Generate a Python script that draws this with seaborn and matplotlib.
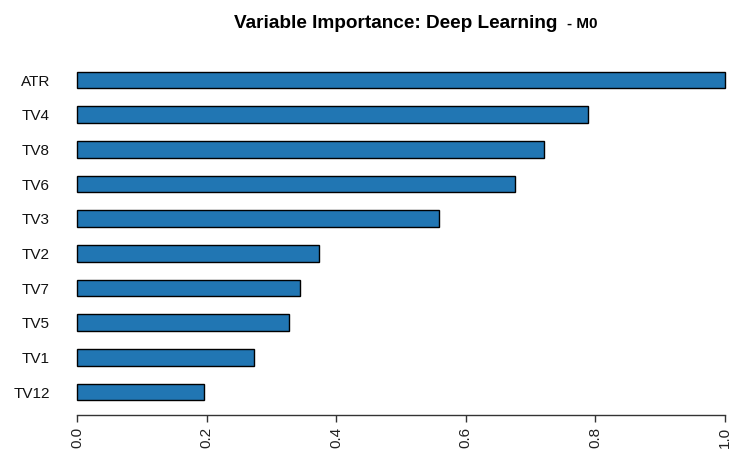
import pandas as pd
import numpy as np
import matplotlib.pyplot as plt
import seaborn as sns

sns.set_theme(style="white")
plt.rcParams['font.family'] = ['Liberation Sans', 'DejaVu Sans']
plt.rcParams['text.color'] = 'black'

variables = ["ATR", "TV4", "TV8", "TV6", "TV3", "TV2", "TV7", "TV5", "TV1", "TV12"]
importance = [1.0, 0.788, 0.720, 0.676, 0.558, 0.373, 0.344, 0.327, 0.273, 0.196]
xticks = [0.0, 0.2, 0.4, 0.6, 0.8, 1.0]
xticklabels = ["0.0", "0.2", "0.4", "0.6", "0.8", "1.0"]

df = pd.DataFrame({"variable": variables, "importance": importance})

W, H = 736, 454
fig = plt.figure(figsize=(W / 100, H / 100), dpi=100)
ax = fig.add_axes([77 / W, 1 - 415 / H, 648 / W, 355 / H])

sns.barplot(
    data=df, x="importance", y="variable", orient="h",
    color="#2176b3", saturation=1, width=0.48,
    edgecolor="black", linewidth=1, ax=ax,
)
for p in ax.patches:
    p.set_clip_on(False)

ax.set_xlim(0, 1)
ax.set_ylim(9.663, -0.577)
ax.set_xticks(xticks)
ax.set_xticklabels(xticklabels, rotation=90, fontsize=11, color="#222222")
ax.tick_params(axis="x", bottom=True, length=5, width=1, color="#333333", pad=3.5)
ax.tick_params(axis="y", left=False, labelsize=11, pad=13.5, labelcolor="#111111")
ax.set_xlabel("")
ax.set_ylabel("")
for s in ["top", "right", "left"]:
    ax.spines[s].set_visible(False)
ax.spines["bottom"].set_color("#333333")
ax.spines["bottom"].set_linewidth(1)

fig.text(396 / W, 1 - 28 / H, "Variable Importance: Deep Learning",
         ha="center", va="baseline", fontsize=13.7, fontweight="bold")
fig.text(567 / W, 1 - 28 / H, "- M0",
         ha="left", va="baseline", fontsize=11, fontweight="bold")

fig.savefig("out.png", dpi=100)
